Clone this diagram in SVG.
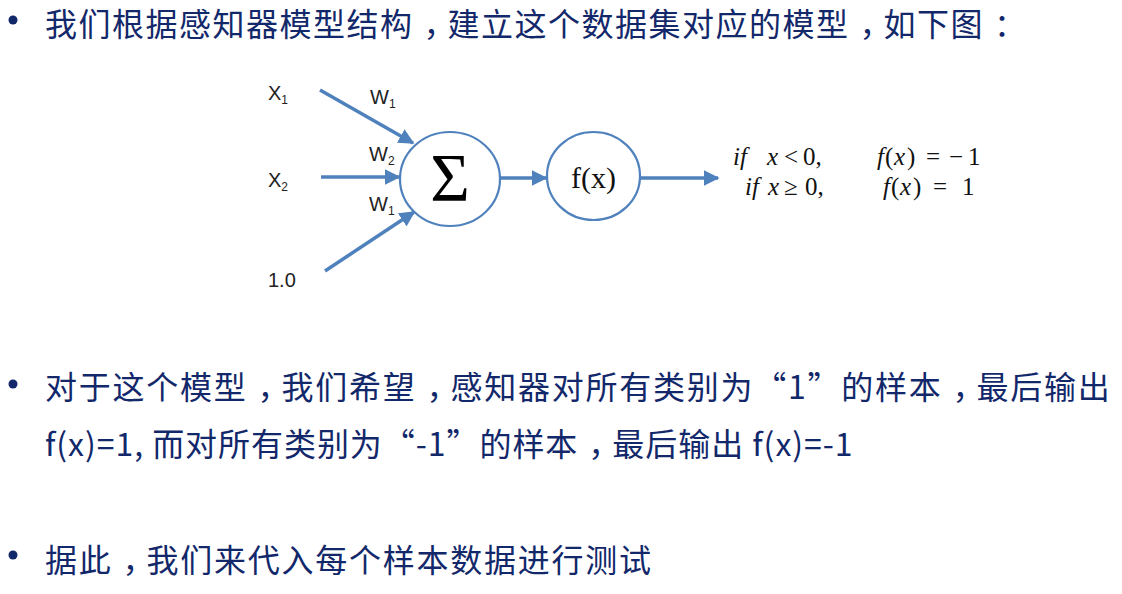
<svg xmlns="http://www.w3.org/2000/svg" width="1122" height="594" viewBox="0 0 1122 594">
<defs>
<style>
.body{font-family:"Noto Sans CJK SC","Liberation Sans",sans-serif;font-size:32px;fill:#12286A;}
.c{letter-spacing:-8px;}
.bul{fill:#12286A;}
.lbl{font-family:"Liberation Sans",Arial,sans-serif;font-size:20px;fill:#222;}
.sub{font-size:12px;}
.node{fill:#fff;stroke:#4F81BD;stroke-width:2.2;}
.edge{stroke:#4F81BD;stroke-width:3.5;fill:none;marker-end:url(#ah);}
.math{font-family:"Liberation Serif","DejaVu Serif",serif;font-size:25px;fill:#111;}
.i{font-style:italic;}
</style>
<marker id="ah" viewBox="0 0 10 10" refX="9" refY="5" markerWidth="4.5" markerHeight="4.5" orient="auto" markerUnits="strokeWidth">
<path d="M0,0 L10,5 L0,10 z" fill="#4F81BD"/>
</marker>
</defs>
<rect width="1122" height="594" fill="#fff"/>

<g id="text-top">
<circle class="bul" cx="13" cy="20" r="4.5"/>
<text class="body" x="45" y="36" letter-spacing="1.5">我们根据感知器模型结构<tspan class="c" dx="10">，</tspan>建立这个数据集对应的模型<tspan class="c" dx="10">，</tspan>如下图<tspan dx="10">：</tspan></text>
</g>

<g id="connectors">
<line class="edge" x1="320" y1="90" x2="413" y2="143"/>
<line class="edge" x1="321" y1="177" x2="399" y2="177"/>
<line class="edge" x1="325" y1="271" x2="414" y2="212"/>
<line class="edge" x1="500" y1="178" x2="546" y2="178"/>
<line class="edge" x1="640" y1="178" x2="718" y2="178"/>
</g>

<g id="input-labels">
<text class="lbl" x="268" y="100">X<tspan class="sub" dy="4">1</tspan></text>
<text class="lbl" x="268" y="187">X<tspan class="sub" dy="4">2</tspan></text>
<text class="lbl" x="268" y="287" font-size="21">1.0</text>
<text class="lbl" x="370" y="104">W<tspan class="sub" dy="4">1</tspan></text>
<text class="lbl" x="369" y="161">W<tspan class="sub" dy="4">2</tspan></text>
<text class="lbl" x="369" y="211">W<tspan class="sub" dy="4">1</tspan></text>
</g>

<g id="sum-node">
<ellipse class="node" cx="450" cy="179" rx="50" ry="47"/>
<text x="450" y="200" text-anchor="middle" font-family="Liberation Serif,serif" font-size="68" fill="#000">Σ</text>
</g>

<g id="fx-node">
<ellipse class="node" cx="593.5" cy="176" rx="46.5" ry="44"/>
<text x="593.5" y="188" text-anchor="middle" font-family="Liberation Serif,serif" font-size="30" fill="#111">f(x)</text>
</g>

<g id="formula">
<text class="math" y="165"><tspan class="i" x="733">if</tspan><tspan class="i" x="767">x</tspan><tspan x="784">&lt;</tspan><tspan x="803">0,</tspan></text>
<text class="math" y="165"><tspan class="i" x="877">f</tspan><tspan x="885">(</tspan><tspan class="i" x="894">x</tspan><tspan x="907">)</tspan><tspan x="926">=</tspan><tspan x="949">−</tspan><tspan x="968">1</tspan></text>
<text class="math" y="195"><tspan class="i" x="745">if</tspan><tspan class="i" x="768">x</tspan><tspan x="784">≥</tspan><tspan x="805">0,</tspan></text>
<text class="math" y="195"><tspan class="i" x="883">f</tspan><tspan x="891">(</tspan><tspan class="i" x="900">x</tspan><tspan x="913">)</tspan><tspan x="933">=</tspan><tspan x="962">1</tspan></text>
</g>

<g id="text-middle">
<circle class="bul" cx="13" cy="384" r="4.5"/>
<text class="body" x="45" y="399" letter-spacing="1.75">对于这个模型<tspan class="c" dx="10">，</tspan>我们希望<tspan class="c" dx="10">，</tspan>感知器对所有类别为“1”的样本<tspan class="c" dx="10">，</tspan>最后输出</text>
<text class="body" x="45" y="456" letter-spacing="0.95">f(x)=1, 而对所有类别为“-1”的样本<tspan class="c" dx="10">，</tspan>最后输出 f(x)=-1</text>
</g>

<g id="text-bottom">
<circle class="bul" cx="13" cy="555" r="4.5"/>
<text class="body" x="45" y="572" letter-spacing="1.75">据此<tspan class="c" dx="10">，</tspan>我们来代入每个样本数据进行测试</text>
</g>
</svg>
